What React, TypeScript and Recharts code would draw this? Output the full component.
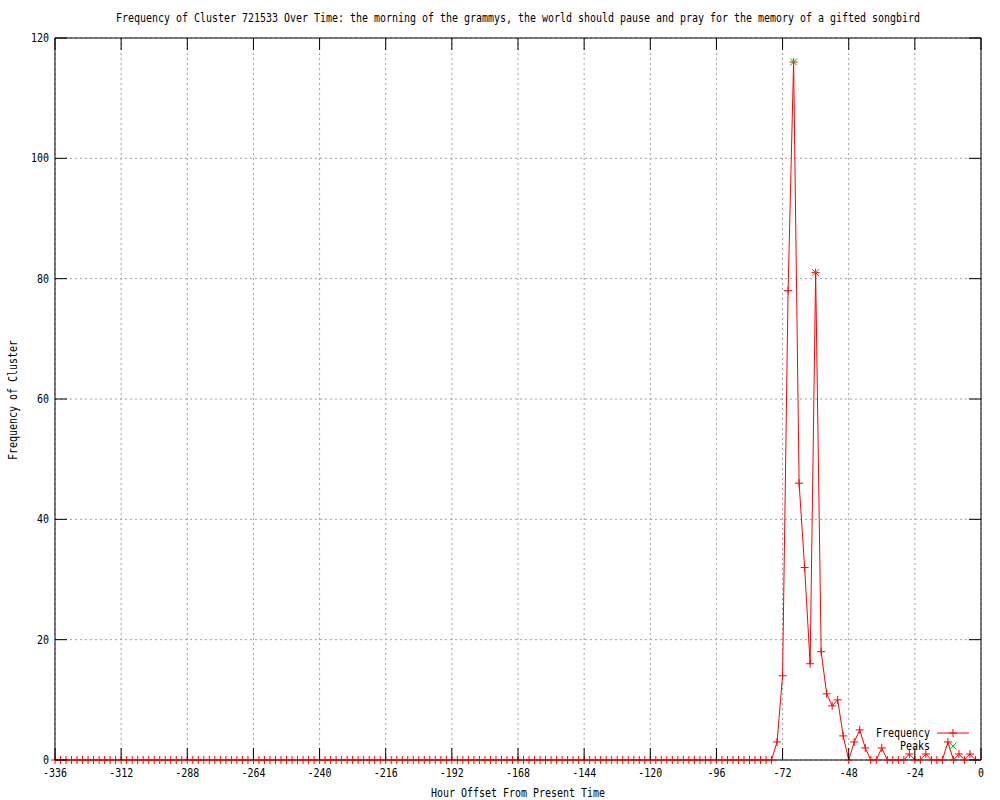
import React from 'react';
import { LineChart, Line, XAxis, YAxis, CartesianGrid, ReferenceArea, Legend } from 'recharts';

// ---- data ----
const START_HOUR = -336;
const HOUR_STEP = 2;

const frequency = [
  0, 0, 0, 0, 0, 0, 0, 0, 0, 0, 0, 0, 0, 0, 0, 0, 0, 0, 0, 0,
  0, 0, 0, 0, 0, 0, 0, 0, 0, 0, 0, 0, 0, 0, 0, 0, 0, 0, 0, 0,
  0, 0, 0, 0, 0, 0, 0, 0, 0, 0, 0, 0, 0, 0, 0, 0, 0, 0, 0, 0,
  0, 0, 0, 0, 0, 0, 0, 0, 0, 0, 0, 0, 0, 0, 0, 0, 0, 0, 0, 0,
  0, 0, 0, 0, 0, 0, 0, 0, 0, 0, 0, 0, 0, 0, 0, 0, 0, 0, 0, 0,
  0, 0, 0, 0, 0, 0, 0, 0, 0, 0, 0, 0, 0, 0, 0, 0, 0, 0, 0, 0,
  0, 0, 0, 0, 0, 0, 0, 0, 0, 0, 0,
  3, 14, 78, 116, 46, 32, 16, 81, 18, 11,
  9, 10, 4, 0, 3, 5, 2, 0, 0, 2,
  0, 0, 0, 0, 1, 0, 0, 1, 0, 0,
  0, 3, 0, 1, 0, 1, 0,
];

const peakHours = [-68, -60];
const peakValues = [116, 81];

const xTicks = [-336, -312, -288, -264, -240, -216, -192, -168, -144, -120, -96, -72, -48, -24, 0];
const yTicks = [0, 20, 40, 60, 80, 100, 120];

const TITLE = 'Frequency of Cluster 721533 Over Time: the morning of the grammys, the world should pause and pray for the memory of a gifted songbird';
const X_LABEL = 'Hour Offset From Present Time';
const Y_LABEL = 'Frequency of Cluster';

const data = frequency.map((v, i) => {
  const hour = START_HOUR + i * HOUR_STEP;
  const pi = peakHours.indexOf(hour);
  return { hour, freq: v, peak: pi >= 0 ? peakValues[pi] : null };
});

// ---- layout ----
const W = 1000;
const H = 800;
const PLOT_LEFT = 55;
const PLOT_RIGHT = 981;
const PLOT_TOP = 38;
const PLOT_BOTTOM = 760;
const TICK_LEN = 12;
const FONT = '"DejaVu Sans Mono", "Liberation Mono", monospace';
const FS = 12;
const CHAR_W = 6;
const RED = '#ff0000';
const GREEN = '#00c000';

// gnuplot-like narrow monospace text
const T = (props: any) => {
  const { children, ...rest } = props;
  const s = String(children);
  return (
    <text
      {...rest}
      fontFamily={FONT}
      fontSize={FS}
      fill="#000"
      textLength={s.length * CHAR_W}
      lengthAdjust="spacingAndGlyphs"
    >
      {s}
    </text>
  );
};

const XTick = (props: any) => {
  const { x, payload } = props;
  return (
    <g>
      <line x1={x} y1={PLOT_BOTTOM} x2={x} y2={PLOT_BOTTOM - TICK_LEN} stroke="#000" />
      <line x1={x} y1={PLOT_TOP} x2={x} y2={PLOT_TOP + TICK_LEN} stroke="#000" />
      <T x={x} y={PLOT_BOTTOM + 17} textAnchor="middle">{payload.value}</T>
    </g>
  );
};

const YTick = (props: any) => {
  const { y, payload } = props;
  return (
    <g>
      <line x1={PLOT_LEFT} y1={y} x2={PLOT_LEFT + TICK_LEN} y2={y} stroke="#000" />
      <line x1={PLOT_RIGHT} y1={y} x2={PLOT_RIGHT - TICK_LEN} y2={y} stroke="#000" />
      <T x={PLOT_LEFT - 6} y={y + 4} textAnchor="end">{payload.value}</T>
    </g>
  );
};

const PlusDot = (props: any) => {
  const { cx, cy, index, value } = props;
  if (cx == null || cy == null || value == null) return <g key={`p${index}`} />;
  return (
    <path
      key={`p${index}`}
      d={`M${cx - 4},${cy}h8M${cx},${cy - 4}v8`}
      stroke={RED}
      strokeWidth={1}
      fill="none"
    />
  );
};

const CrossDot = (props: any) => {
  const { cx, cy, index, value } = props;
  if (cx == null || cy == null || value == null) return <g key={`c${index}`} />;
  return (
    <path
      key={`c${index}`}
      d={`M${cx - 3.5},${cy - 3.5}l7,7M${cx - 3.5},${cy + 3.5}l7,-7`}
      stroke={GREEN}
      strokeWidth={1}
      fill="none"
    />
  );
};

const renderLegend = () => (
  <svg width={120} height={36} style={{ display: 'block' }}>
    <T x={70} y={17} textAnchor="end">Frequency</T>
    <line x1={77} y1={13} x2={109} y2={13} stroke={RED} />
    <path d="M89,13h8M93,9v8" stroke={RED} fill="none" />
    <T x={70} y={30} textAnchor="end">Peaks</T>
    <path d="M89.5,22.5l7,7M89.5,29.5l7,-7" stroke={GREEN} fill="none" />
  </svg>
);

export default function App() {
  return (
    <div style={{ position: 'absolute', left: 0, top: 0, width: W, height: H, background: '#fff' }}>
      <LineChart
        width={W}
        height={H}
        data={data}
        margin={{ top: PLOT_TOP, right: W - PLOT_RIGHT, bottom: 0, left: 0 }}
      >
        <CartesianGrid stroke="#a0a0a0" strokeDasharray="2 3" horizontal vertical />
        <XAxis
          type="number"
          dataKey="hour"
          domain={[-336, 0]}
          ticks={xTicks}
          interval={0}
          height={H - PLOT_BOTTOM}
          axisLine={false}
          tickLine={false}
          tickSize={0}
          tickMargin={0}
          tick={<XTick />}
          label={{
            content: () => (
              <g>
                <T x={(PLOT_LEFT + PLOT_RIGHT) / 2} y={22} textAnchor="middle">{TITLE}</T>
                <T x={(PLOT_LEFT + PLOT_RIGHT) / 2} y={797} textAnchor="middle">{X_LABEL}</T>
              </g>
            ),
          }}
        />
        <YAxis
          type="number"
          domain={[0, 120]}
          ticks={yTicks}
          interval={0}
          width={PLOT_LEFT}
          axisLine={false}
          tickLine={false}
          tickSize={0}
          tickMargin={0}
          tick={<YTick />}
          label={{
            content: () => (
              <T x={17} y={400} transform="rotate(-90 17 400)" textAnchor="middle">{Y_LABEL}</T>
            ),
          }}
        />
        <ReferenceArea
          x1={-336}
          x2={0}
          y1={0}
          y2={120}
          fill="none"
          stroke="#000"
          strokeWidth={1}
          ifOverflow="visible"
        />
        <Legend
          layout="vertical"
          align="center"
          verticalAlign="middle"
          content={renderLegend}
          wrapperStyle={{ position: 'absolute', left: 860, top: 720, width: 120, height: 36 }}
        />
        <Line
          dataKey="freq"
          stroke={RED}
          strokeWidth={1}
          dot={PlusDot}
          activeDot={false}
          isAnimationActive={false}
        />
        <Line
          dataKey="peak"
          stroke="none"
          dot={CrossDot}
          activeDot={false}
          connectNulls={false}
          isAnimationActive={false}
          legendType="none"
        />
      </LineChart>
    </div>
  );
}
